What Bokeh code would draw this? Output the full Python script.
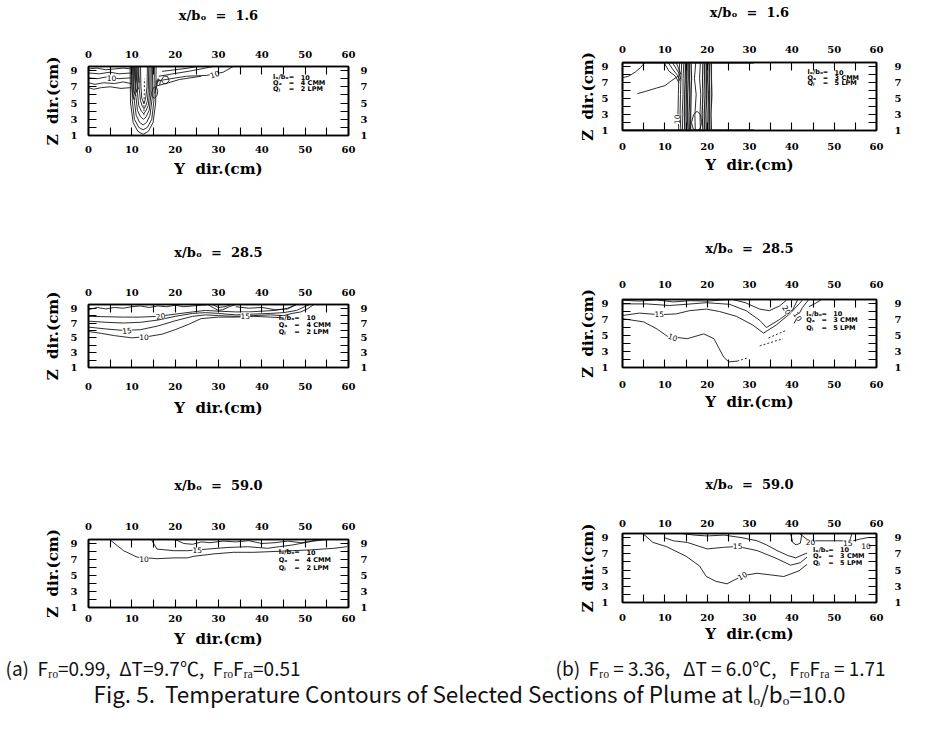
from bokeh.plotting import figure
from bokeh.models import LinearAxis, FixedTicker, Range1d
from bokeh.layouts import column, row
from bokeh.core.properties import value
from bokeh.embed import file_html
from bokeh.resources import INLINE

# ---------------- axes / texts ----------------
X_TICKS = [0, 10, 20, 30, 40, 50, 60]
X_MINOR = [5, 15, 25, 35, 45, 55]
Z_TICKS = [1, 3, 5, 7, 9]
Z_MINOR = [2, 4, 6, 8]
NB = "\u00a0"
SECTIONS = ["1.6", "28.5", "59.0"]
X_LABEL = "Y" + NB + NB + "dir.(cm)"
Z_LABEL = "Z" + NB + NB + "dir.(cm)"
LEG_NAMES = ["lₒ/bₒ", "Qₐ", "Qⱼ"]
LEG_VALUES_A = ["10", "4 CMM", "2 LPM"]
LEG_VALUES_B = ["10", "3 CMM", "5 LPM"]
CAP_A = "(a)" + NB + NB + "Fᵣₒ=0.99," + NB + NB + "ΔT=9.7℃," + NB + NB + "FᵣₒFᵣₐ=0.51"
CAP_B = ("(b)" + NB + NB + "Fᵣₒ" + NB + "=" + NB + "3.36," + NB + NB + NB + "ΔT" + NB + "=" + NB
         + "6.0℃," + NB + NB + NB + "FᵣₒFᵣₐ" + NB + "=" + NB + "1.71")
CAP_FIG = "Fig. 5." + NB + NB + "Temperature Contours of Selected Sections of Plume at lₒ/bₒ=10.0"

# ---------------- (a) x/bo = 1.6 ----------------
a1_y = [
    [9.6, 9.7, 10.3, 11.4, 12.6, 13.8, 14.9, 15.5, 15.6],
    [10.0, 10.1, 10.6, 11.6, 12.6, 13.6, 14.6, 15.1, 15.2],
    [10.4, 10.5, 11.0, 11.8, 12.6, 13.4, 14.2, 14.7, 14.8],
    [10.8, 10.9, 11.3, 12.0, 12.7, 13.3, 14.0, 14.4, 14.5],
    [11.2, 11.3, 11.6, 12.2, 12.7, 13.2, 13.8, 14.1, 14.2],
    [11.6, 11.7, 12.0, 12.4, 12.8, 13.2, 13.6, 13.8, 13.9],
    [12.0, 12.1, 12.3, 12.8, 13.2, 13.5, 13.6],
    [0, 2, 4, 6, 8, 9.8],
    [0, 2.5, 5, 7, 9.8],
    [0, 2, 4, 7, 9.8],
    [0, 1.5, 3.5, 6, 8, 9.8],
    [0, 1.2, 3, 5, 7.5, 9.8],
    [15.7, 19.0, 22.6, 27.2, 31.1, 33.4],
    [16.2, 19.5, 23.0, 26.0, 28.7],
    [17.0, 20.0, 23.0, 25.0],
    [16.4, 18.5, 21.0, 23.5, 26.0],
    [14.6, 15.0, 15.6, 16.0, 15.8, 15.2, 14.7, 14.6],
    [16.8, 17.4, 18.2, 18.6, 18.1, 17.3, 16.8],
    [15.6, 16.1, 16.6, 16.4, 15.9, 15.6],
]
a1_z = [
    [9.5, 5.0, 2.6, 1.5, 1.15, 1.5, 2.6, 5.0, 9.5],
    [9.5, 5.3, 3.0, 2.0, 1.7, 2.0, 3.0, 5.3, 9.5],
    [9.5, 5.6, 3.5, 2.6, 2.3, 2.6, 3.5, 5.6, 9.5],
    [9.5, 6.0, 4.1, 3.3, 3.0, 3.3, 4.1, 6.0, 9.5],
    [9.5, 6.3, 4.7, 4.0, 3.7, 4.0, 4.7, 6.3, 9.5],
    [9.5, 6.7, 5.3, 4.6, 4.3, 4.6, 5.3, 6.7, 9.5],
    [9.5, 7.0, 5.6, 4.9, 5.6, 7.0, 9.5],
    [9.2, 9.3, 9.1, 9.2, 9.3, 9.2],
    [8.7, 8.6, 8.8, 8.6, 8.7],
    [8.1, 8.0, 8.2, 8.0, 8.1],
    [7.5, 7.3, 7.5, 7.4, 7.6, 7.4],
    [6.9, 6.7, 6.9, 7.0, 6.8, 6.9],
    [7.7, 8.0, 8.3, 8.4, 8.8, 9.5],
    [8.3, 8.6, 8.9, 9.2, 9.5],
    [8.9, 9.1, 9.3, 9.5],
    [7.2, 7.5, 7.9, 8.1, 8.3],
    [6.3, 6.9, 7.0, 6.5, 5.9, 5.6, 5.8, 6.3],
    [7.8, 8.3, 8.3, 7.8, 7.4, 7.4, 7.8],
    [7.6, 8.0, 7.7, 7.2, 7.1, 7.6],
]
a1_thick_y = [[9.9, 9.95, 10.2, 10.6], [10.2, 10.3, 10.5, 10.9], [10.6, 10.7, 10.9, 11.2],
              [11.0, 11.05, 11.3, 11.5], [11.4, 11.5, 11.7], [15.3, 15.5, 15.8, 16.2]]
a1_thick_z = [[9.5, 7.5, 6.0, 5.4], [9.5, 7.8, 6.4, 5.9], [9.5, 8.0, 6.8, 6.3],
              [9.5, 8.2, 7.1, 6.7], [9.5, 8.4, 7.5], [6.2, 6.8, 7.4, 7.9]]
a1_dash_y = [[12.8, 12.8, 12.9, 12.9]]
a1_dash_z = [[3.5, 5.0, 6.5, 8.0]]
a1_lab_y = [5.3, 29.1]
a1_lab_z = [8.1, 8.55]
a1_lab_t = ["10", "10"]
a1_lab_a = [0.0, 0.3]
a1_leg = (42.6, [8.15, 7.45, 6.7])

# ---------------- (b) x/bo = 1.6 ----------------
b1_y = [
    [0, 1.5, 3.0, 4.3, 5.3],
    [3.5, 5.5, 8.0, 10.0, 11.5, 13.2],
    [9.8, 11.0, 12.5, 13.3],
    [10.8, 11.8, 13.0, 13.6],
    [11.8, 12.6, 13.4, 13.8],
    [12.7, 13.2, 13.8],
    [13.5, 13.3, 13.2, 13.1, 13.3],
    [14.0, 13.8, 13.7, 13.6, 13.8],
    [14.5, 14.3, 14.3, 14.1, 14.2],
    [17.3, 17.0, 17.4, 17.1, 17.2],
    [18.4, 18.2, 18.5, 18.3, 18.4],
    [16.3, 16.8, 17.6, 18.4, 18.7, 18.3, 17.5, 16.7, 16.3],
    [0, 31.0],
    [0, 31.0],
]
b1_z = [
    [7.6, 7.8, 8.3, 8.9, 9.5],
    [5.6, 5.9, 6.3, 6.6, 7.2, 7.8],
    [9.5, 8.4, 7.8, 7.0],
    [9.5, 8.7, 7.9, 7.2],
    [9.5, 8.8, 8.1, 7.4],
    [9.5, 8.8, 8.0],
    [9.5, 7.5, 5.5, 3.0, 1.0],
    [9.5, 7.5, 5.5, 3.0, 1.0],
    [9.5, 7.5, 5.5, 3.0, 1.0],
    [9.5, 7.5, 5.5, 3.0, 1.0],
    [9.5, 7.5, 5.5, 3.0, 1.0],
    [2.0, 3.0, 3.4, 3.0, 2.0, 1.2, 1.0, 1.2, 2.0],
    [9.42, 9.42],
    [1.08, 1.08],
]
b1_thick_y = [
    [14.9, 14.8, 14.7, 14.6, 14.7],
    [15.2, 15.1, 15.1, 15.0, 15.1],
    [15.5, 15.5, 15.4, 15.3, 15.5],
    [15.8, 15.8, 15.9, 15.7, 15.8],
    [16.2, 16.3, 16.2, 16.1, 16.1],
    [19.0, 18.9, 19.0, 18.8, 19.0],
    [19.4, 19.4, 19.5, 19.3, 19.4],
    [19.8, 19.8, 19.9, 19.7, 19.8],
    [20.2, 20.1, 20.3, 20.2, 20.2],
    [20.6, 20.5, 20.6, 20.5, 20.6],
    [21.0, 21.0, 21.1, 20.9, 21.0],
]
b1_thick_z = [[9.5, 7.5, 5.5, 3.0, 1.0] for _ in b1_thick_y]
b1_dash_y = []
b1_dash_z = []
b1_lab_y = [12.8]
b1_lab_z = [2.4]
b1_lab_t = ["10"]
b1_lab_a = [1.5708]
b1_leg = (43.7, [8.3, 7.6, 6.9])

# ---------------- (a) x/bo = 28.5 ----------------
a2_y = [
    [0, 2, 4, 6, 8, 10, 12, 14, 16, 18, 20, 22, 24, 26, 28],
    [27.5, 29.0, 30.0, 31.0, 32.5, 34.0],
    [28.5, 30.0, 31.5, 33.0],
    [34.0, 37.0, 40.0, 43.0, 46.0, 48.0],
    [0, 4, 8, 12, 16, 20, 24, 27, 30, 34, 37, 40, 43, 46, 48],
    [0, 4, 8, 12, 16, 20, 24, 27, 30, 34, 38, 42, 45, 48, 51],
    [0, 4, 8, 12, 16, 20, 24, 27, 30, 34, 38, 42, 45],
    [0, 3, 6, 10, 14, 17, 20, 23, 26, 30, 34, 38, 42, 45],
    [45.0, 47.0, 49.0, 50.5, 52.0],
]
a2_z = [
    [8.8, 9.1, 8.9, 9.1, 9.0, 9.2, 9.3, 9.1, 9.3, 9.2, 9.4, 9.2, 9.3, 9.4, 9.5],
    [9.5, 9.0, 8.7, 8.8, 9.2, 9.5],
    [9.5, 9.1, 9.2, 9.5],
    [9.2, 9.0, 9.1, 8.8, 8.9, 9.5],
    [7.9, 7.85, 7.8, 7.8, 7.9, 8.2, 8.5, 8.7, 8.6, 8.5, 8.5, 8.6, 8.7, 9.0, 9.5],
    [7.25, 7.1, 7.0, 7.1, 7.4, 7.9, 8.3, 8.4, 8.3, 8.1, 8.2, 8.3, 8.4, 8.7, 9.5],
    [6.45, 6.2, 6.0, 6.1, 6.6, 7.3, 7.9, 8.1, 8.0, 7.9, 8.0, 8.1, 8.0],
    [5.85, 5.6, 5.3, 5.0, 5.2, 5.5, 6.1, 6.8, 7.6, 7.8, 7.8, 7.9, 7.8, 7.7],
    [8.0, 8.3, 8.5, 8.9, 9.5],
]
a2_thick_y, a2_thick_z = [], []
a2_dash_y, a2_dash_z = [], []
a2_lab_y = [16.6, 8.9, 12.8, 36.2]
a2_lab_z = [7.95, 6.0, 5.1, 8.0]
a2_lab_t = ["20", "15", "10", "15"]
a2_lab_a = [0.15, 0.1, 0.0, 0.0]
a2_leg = (43.9, [7.7, 6.7, 5.8])

# ---------------- (b) x/bo = 28.5 ----------------
b2_y = [
    [0, 4, 8, 12, 16, 20, 24, 26],
    [0, 5.6, 11.1, 15.0, 19.8, 25.3, 29.2, 32.4, 34.0, 37.1, 40.2, 41.4],
    [0, 4, 8.7, 12.7, 15.8, 19.8, 22.9, 26.9, 30.8, 33.3, 36.3, 39.5, 41.8, 42.6],
    [0, 5.0, 8.2, 10.6, 15.3, 19.2, 21.6, 23.9, 25.1, 27.1],
    [26.0, 29.0, 32.4, 34.7, 37.1, 38.7],
    [40.5, 41.5, 42.5, 44.0],
    [44.0, 45.5, 47.0],
]
b2_z = [
    [9.4, 9.3, 9.45, 9.2, 9.35, 9.3, 9.45, 9.5],
    [8.95, 8.95, 8.75, 8.9, 9.1, 8.9, 8.1, 6.9, 6.0, 7.0, 8.2, 9.5],
    [7.5, 7.8, 7.6, 7.7, 8.1, 8.3, 8.0, 7.4, 6.3, 5.3, 6.3, 7.7, 9.0, 9.5],
    [7.1, 6.7, 5.8, 4.9, 4.6, 5.2, 4.6, 2.3, 1.7, 1.8],
    [9.5, 9.1, 8.3, 8.1, 8.7, 9.4],
    [6.5, 7.5, 8.5, 9.5],
    [8.6, 9.0, 9.5],
]
b2_thick_y, b2_thick_z = [], []
b2_dash_y = [[27.1, 29.5], [32.4, 37.9], [34.5, 38.5]]
b2_dash_z = [[1.8, 2.2], [3.7, 4.6], [4.7, 5.6]]
b2_lab_y = [8.7, 11.9, 38.8, 41.4]
b2_lab_z = [7.65, 4.8, 8.2, 7.4]
b2_lab_t = ["15", "10", "20", "10"]
b2_lab_a = [0.0, -0.35, -1.0, -1.0]
b2_leg = (43.4, [7.7, 6.9, 6.0])

# ---------------- (a) x/bo = 59.0 ----------------
a3_y = [
    [5.1, 8.1, 11.2, 15.8, 19.7, 22.8, 24.3, 28.9, 33.5, 38.2, 42.8, 47.0, 51.2, 56.6, 59.7],
    [14.5, 15.8, 19.7, 22.8, 27.4, 32.0, 36.7, 41.3, 44.0, 46.9, 50.0, 53.0],
    [20, 22, 24, 26, 28, 31, 34, 37, 40, 43, 46, 49, 52, 55],
]
a3_z = [
    [9.4, 8.1, 7.3, 7.1, 7.2, 7.2, 7.4, 7.7, 7.9, 7.9, 8.0, 8.1, 8.2, 8.4, 8.6],
    [9.5, 8.3, 8.1, 8.1, 8.3, 8.5, 8.6, 8.4, 8.6, 8.8, 9.1, 9.5],
    [9.5, 9.0, 8.9, 9.2, 9.1, 9.3, 9.2, 9.35, 9.0, 9.1, 9.3, 9.1, 9.3, 9.5],
]
a3_thick_y, a3_thick_z = [], []
a3_dash_y, a3_dash_z = [], []
a3_lab_y = [12.8, 25.1]
a3_lab_z = [7.05, 8.15]
a3_lab_t = ["10", "15"]
a3_lab_a = [0.0, 0.0]
a3_leg = (43.9, [7.9, 6.9, 6.0])

# ---------------- (b) x/bo = 59.0 ----------------
b3_y = [
    [5.0, 7.2, 10.3, 15.0, 18.2, 19.8, 22.1, 24.7, 28.3, 31.8, 35.0, 38.1, 41.7, 43.6],
    [9.8, 12.0, 15.3, 20.0, 23.9, 27.2, 31.8, 36.5, 39.7, 42.0, 43.6],
    [14.0, 17.0, 20.0, 24.0, 28.0, 31.8, 34.0, 36.5, 39.0, 40.9, 43.6],
    [39.7, 40.2, 41.0, 42.0, 42.4],
    [41.8, 44.0, 48.0, 52.0, 53.6, 54.2],
    [54.5, 56.0, 58.0, 60.0],
]
b3_z = [
    [9.4, 8.4, 7.9, 6.7, 5.5, 4.2, 3.6, 3.3, 4.3, 4.6, 4.4, 4.2, 4.9, 5.7],
    [9.0, 8.6, 8.4, 7.6, 7.8, 7.9, 7.4, 6.4, 5.6, 5.9, 6.6],
    [9.5, 9.3, 9.2, 9.3, 9.0, 8.6, 8.1, 7.4, 6.8, 6.5, 7.1],
    [9.5, 8.4, 8.1, 8.3, 9.5],
    [9.5, 8.6, 8.6, 8.6, 8.5, 9.5],
    [8.6, 8.8, 9.0, 9.0],
]
b3_thick_y, b3_thick_z = [], []
b3_dash_y, b3_dash_z = [], []
b3_lab_y = [27.2, 28.3, 44.4, 53.2, 57.5]
b3_lab_z = [7.9, 4.3, 8.4, 8.3, 7.9]
b3_lab_t = ["15", "10", "20", "15", "10"]
b3_lab_a = [0.0, 0.5, 0.0, 0.0, 0.0]
b3_leg = (45.0, [7.5, 6.7, 5.9])

SERIF = "DejaVu Serif"
INK = "#161616"


def make_panel(section, cfg, ly, lz, ty, tz, dy, dz, lab_y, lab_z, lab_t, lab_a, leg, leg_vals):
    (w, h, bl, br, bt, bb, tso, bso, lso, rso, xlso, ylso, titso) = cfg
    p = figure(width=w, height=h, x_range=Range1d(0, 60), y_range=Range1d(1, 9.5),
               output_backend="svg", toolbar_location=None,
               min_border_left=bl, min_border_right=br, min_border_top=bt, min_border_bottom=bb)
    p.background_fill_color = "white"
    p.border_fill_color = "white"
    p.outline_line_color = "black"
    p.outline_line_width = 1.6
    p.xgrid.visible = False
    p.ygrid.visible = False

    top = LinearAxis()
    right = LinearAxis()
    p.add_layout(top, "above")
    p.add_layout(right, "right")
    bottom = p.below[0]
    left = p.left[0]
    for ax in (bottom, top):
        ax.ticker = FixedTicker(ticks=X_TICKS, minor_ticks=X_MINOR)
    for ax in (left, right):
        ax.ticker = FixedTicker(ticks=Z_TICKS, minor_ticks=Z_MINOR)
    for ax in (bottom, top, left, right):
        ax.major_tick_in = 8
        ax.major_tick_out = 0
        ax.minor_tick_in = 8
        ax.minor_tick_out = 0
        ax.major_tick_line_width = 1.1
        ax.minor_tick_line_width = 1.1
        ax.major_tick_line_color = "black"
        ax.minor_tick_line_color = "black"
        ax.axis_line_width = 1.6
        ax.axis_line_color = "black"
        ax.major_label_text_font = SERIF
        ax.major_label_text_font_style = "bold"
        ax.major_label_text_font_size = "10px"
        ax.major_label_text_color = "black"
    top.major_label_standoff = tso
    bottom.major_label_standoff = bso
    left.major_label_standoff = lso
    right.major_label_standoff = rso
    top.axis_label = "x/bₒ" + NB + NB + "=" + NB + NB + section
    bottom.axis_label = X_LABEL
    left.axis_label = Z_LABEL
    for ax, so, fs in ((top, titso, "13px"), (bottom, xlso, "15px"), (left, ylso, "15px")):
        ax.axis_label_text_font = SERIF
        ax.axis_label_text_font_style = "bold"
        ax.axis_label_text_font_size = fs
        ax.axis_label_text_color = "black"
        ax.axis_label_standoff = so

    p.multi_line(xs=ly, ys=lz, line_color=INK, line_width=0.9)
    if ty:
        p.multi_line(xs=ty, ys=tz, line_color="#2a2a2a", line_width=1.3)
    if dy:
        p.multi_line(xs=dy, ys=dz, line_color=INK, line_width=0.9, line_dash="2 2")
    p.text(x=lab_y, y=lab_z, text=lab_t, angle=lab_a, text_font=value("DejaVu Sans"),
           text_font_size="7.5px", text_align="center", text_baseline="middle",
           text_color="black", background_fill_color="white")
    y0, zs = leg
    p.text(x=[y0] * 3, y=zs, text=LEG_NAMES, text_font=value("DejaVu Sans"),
           text_font_size="6.5px", text_font_style="bold", text_baseline="middle", text_color="black")
    p.text(x=[y0 + 3.6] * 3, y=zs, text=["="] * 3, text_font=value("DejaVu Sans"),
           text_font_size="6.5px", text_font_style="bold", text_baseline="middle", text_color="black")
    p.text(x=[y0 + 6.4] * 3, y=zs, text=leg_vals, text_font=value("DejaVu Sans"),
           text_font_size="6.5px", text_font_style="bold", text_baseline="middle", text_color="black")
    return p


# layout configs: (w, h, bl, br, bt, bb, tick_top, tick_bot, tick_left, tick_right, xlab, ylab, title)
CFG_A1 = (470, 200, 88, 122, 66, 65, 9, 10, 11, 12, 4, 6, 25)
CFG_A2 = (470, 240, 88, 122, 104, 73, 9, 15, 11, 12, 6, 6, 26)
CFG_A3 = (470, 210, 88, 122, 99, 43, 10, 7, 11, 12, 5, 6, 27)
CFG_B1 = (470, 200, 152, 64, 62, 70, 10, 12, 14, 18, 3, 2, 23)
CFG_B2 = (470, 240, 152, 64, 99, 73, 12, 13, 14, 18, 2, 2, 22)
CFG_B3 = (470, 210, 152, 64, 93, 48, 7, 11, 14, 18, 1, 2, 25)

pa1 = make_panel(SECTIONS[0], CFG_A1, a1_y, a1_z, a1_thick_y, a1_thick_z, a1_dash_y, a1_dash_z,
                 a1_lab_y, a1_lab_z, a1_lab_t, a1_lab_a, a1_leg, LEG_VALUES_A)
pb1 = make_panel(SECTIONS[0], CFG_B1, b1_y, b1_z, b1_thick_y, b1_thick_z, b1_dash_y, b1_dash_z,
                 b1_lab_y, b1_lab_z, b1_lab_t, b1_lab_a, b1_leg, LEG_VALUES_B)
pa2 = make_panel(SECTIONS[1], CFG_A2, a2_y, a2_z, a2_thick_y, a2_thick_z, a2_dash_y, a2_dash_z,
                 a2_lab_y, a2_lab_z, a2_lab_t, a2_lab_a, a2_leg, LEG_VALUES_A)
pb2 = make_panel(SECTIONS[1], CFG_B2, b2_y, b2_z, b2_thick_y, b2_thick_z, b2_dash_y, b2_dash_z,
                 b2_lab_y, b2_lab_z, b2_lab_t, b2_lab_a, b2_leg, LEG_VALUES_B)
pa3 = make_panel(SECTIONS[2], CFG_A3, a3_y, a3_z, a3_thick_y, a3_thick_z, a3_dash_y, a3_dash_z,
                 a3_lab_y, a3_lab_z, a3_lab_t, a3_lab_a, a3_leg, LEG_VALUES_A)
pb3 = make_panel(SECTIONS[2], CFG_B3, b3_y, b3_z, b3_thick_y, b3_thick_z, b3_dash_y, b3_dash_z,
                 b3_lab_y, b3_lab_z, b3_lab_t, b3_lab_a, b3_leg, LEG_VALUES_B)

# caption strip
cap = figure(width=940, height=82, x_range=Range1d(0, 940), y_range=Range1d(82, 0),
             output_backend="svg", toolbar_location=None, x_axis_type=None, y_axis_type=None,
             min_border=0)
cap.xgrid.visible = False
cap.ygrid.visible = False
cap.outline_line_color = None
cap.background_fill_color = "white"
cap.border_fill_color = "white"
CAP_FONT = value("Noto Sans CJK KR")
cap.text(x=[5, 555], y=[17, 17], text=[CAP_A, CAP_B], text_font=CAP_FONT,
         text_font_size="19px", text_baseline="middle", text_align="left", text_color="#111")
cap.text(x=[469], y=[42], text=[CAP_FIG], text_font=CAP_FONT,
         text_font_size="22.5px", text_baseline="middle", text_align="center", text_color="#111")

layout = column(row(column(pa1, pa2, pa3), column(pb1, pb2, pb3)), cap)
open("out.html", "w").write(file_html(layout, INLINE))
